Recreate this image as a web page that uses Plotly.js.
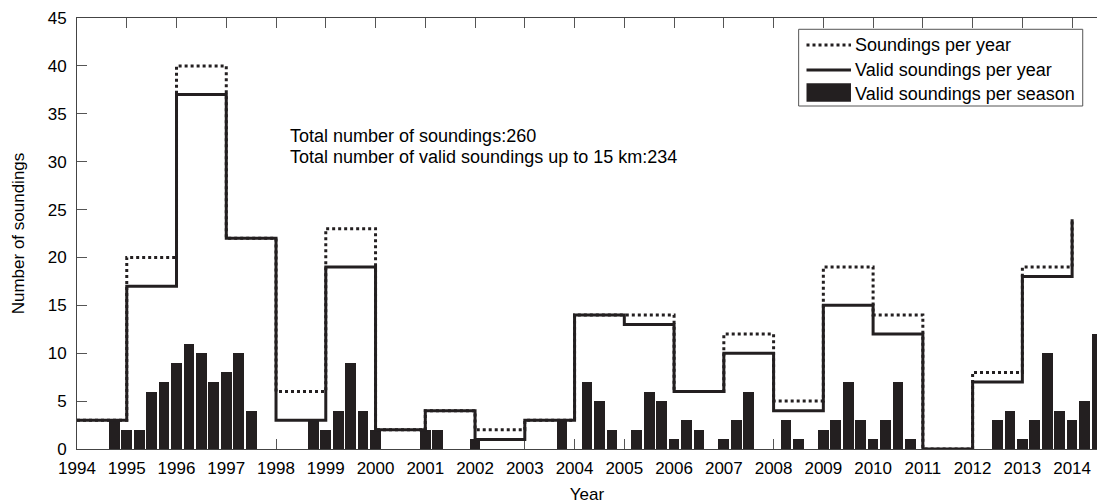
<!DOCTYPE html>
<html>
<head>
<meta charset="utf-8">
<script src="https://cdn.plot.ly/plotly-3.0.1.min.js"></script>
<style>
  html, body { margin: 0; padding: 0; background: #fff; }
  #chart { width: 1097px; height: 504px; }
</style>
</head>
<body>
<div id="chart"></div>
<script>
// Yearly sounding counts (stairs start at each year)
const years = [1994, 1995, 1996, 1997, 1998, 1999, 2000, 2001, 2002, 2003, 2004,
               2005, 2006, 2007, 2008, 2009, 2010, 2011, 2012, 2013, 2014];
const soundingsPerYear = [3, 20, 40, 22, 6, 23, 2, 4, 2, 3, 14,
                          14, 6, 12, 5, 19, 14, 0, 8, 19, 24];
const validPerYear = [3, 17, 37, 22, 3, 19, 2, 4, 1, 3, 14,
                      13, 6, 10, 4, 15, 12, 0, 7, 18, 24];

// Valid soundings per season, four seasons for each year
const seasonOffsets = [0, 0.25, 0.5, 0.75];
const validPerSeason = [
  [0, 0, 0, 3],    // 1994
  [2, 2, 6, 7],    // 1995
  [9, 11, 10, 7],  // 1996
  [8, 10, 4, 0],   // 1997
  [0, 0, 0, 3],    // 1998
  [2, 4, 9, 4],    // 1999
  [2, 0, 0, 0],    // 2000
  [2, 2, 0, 0],    // 2001
  [1, 0, 0, 0],    // 2002
  [0, 0, 0, 3],    // 2003
  [0, 7, 5, 2],    // 2004
  [0, 2, 6, 5],    // 2005
  [1, 3, 2, 0],    // 2006
  [1, 3, 6, 0],    // 2007
  [0, 3, 1, 0],    // 2008
  [2, 3, 7, 3],    // 2009
  [1, 3, 7, 1],    // 2010
  [0, 0, 0, 0],    // 2011
  [0, 0, 3, 4],    // 2012
  [1, 3, 10, 4],   // 2013
  [3, 5, 12, 4]    // 2014
];

const legendLabels = ['Soundings per year', 'Valid soundings per year', 'Valid soundings per season'];
const noteLines = ['Total number of soundings:260', 'Total number of valid soundings up to 15 km:234'];

const ink = '#231f20';

const seasonX = [], seasonY = [];
years.forEach((yr, i) => {
  validPerSeason[i].forEach((v, q) => {
    seasonX.push(yr + seasonOffsets[q]);
    seasonY.push(v);
  });
});

const traces = [
  {
    type: 'bar', x: seasonX, y: seasonY, width: 0.215,
    marker: { color: ink, line: { width: 0 } },
    showlegend: false, hoverinfo: 'x+y'
  },
  {
    type: 'scatter', mode: 'lines', x: years, y: soundingsPerYear,
    line: { shape: 'hv', color: ink, width: 3, dash: 'dot' },
    showlegend: false
  },
  {
    type: 'scatter', mode: 'lines', x: years, y: validPerYear,
    line: { shape: 'hv', color: ink, width: 3 },
    showlegend: false
  }
];

// Legend box drawn in paper coordinates
const lgX0 = 0.7075, lgX1 = 0.986, lgTop = 0.9738, lgBot = 0.7958;
const smpX0 = 0.7152, smpX1 = 0.7588, txtX = 0.761;
const rowY = [0.9374, 0.8794, 0.8237];

const shapes = [
  { type: 'rect', xref: 'paper', yref: 'paper', x0: lgX0, x1: lgX1, y0: lgBot, y1: lgTop,
    line: { color: '#555', width: 1 }, fillcolor: '#fff', layer: 'above' },
  { type: 'line', xref: 'paper', yref: 'paper', x0: smpX0, x1: smpX1, y0: rowY[0], y1: rowY[0],
    line: { color: ink, width: 3, dash: 'dot' }, layer: 'above' },
  { type: 'line', xref: 'paper', yref: 'paper', x0: smpX0, x1: smpX1, y0: rowY[1], y1: rowY[1],
    line: { color: ink, width: 3 }, layer: 'above' },
  { type: 'rect', xref: 'paper', yref: 'paper', x0: smpX0, x1: smpX1, y0: 0.8058, y1: 0.8485,
    line: { width: 0 }, fillcolor: ink, layer: 'above' }
];

const annotations = legendLabels.map((t, i) => ({
  xref: 'paper', yref: 'paper', x: txtX, y: rowY[i], xanchor: 'left', yanchor: 'middle',
  text: t, showarrow: false, font: { size: 18, color: '#000' }
})).concat(noteLines.map((t, i) => ({
  xref: 'paper', yref: 'paper', x: 0.2072, y: [0.7255, 0.6775][i], xanchor: 'left', yanchor: 'middle',
  text: t, showarrow: false, font: { size: 18, color: '#000' }
})));

const layout = {
  width: 1097, height: 504,
  margin: { l: 77, r: 0, t: 18, b: 55, pad: 0 },
  paper_bgcolor: '#fff', plot_bgcolor: '#fff',
  font: { family: '"Liberation Sans", Arial, sans-serif', size: 17, color: '#000' },
  bargap: 0,
  xaxis: {
    range: [1994, 2014.5], tick0: 1994, dtick: 1,
    ticks: 'inside', ticklen: 10, tickwidth: 1, tickcolor: '#555',
    showline: true, linecolor: '#444', linewidth: 1, mirror: 'ticks',
    showgrid: false, zeroline: false, layer: 'below traces',
    ticklabelstandoff: 4,
    title: { text: 'Year', font: { size: 17 }, standoff: 14 }
  },
  yaxis: {
    range: [0, 45], tick0: 0, dtick: 5,
    ticks: 'inside', ticklen: 10, tickwidth: 1, tickcolor: '#555',
    showline: true, linecolor: '#444', linewidth: 1, mirror: false,
    showgrid: false, zeroline: false, layer: 'below traces',
    ticklabelstandoff: 6,
    title: { text: 'Number of soundings', font: { size: 17 }, standoff: 18 }
  },
  shapes: shapes,
  annotations: annotations
};

Plotly.newPlot('chart', traces, layout, { staticPlot: true, displayModeBar: false });
</script>
</body>
</html>
